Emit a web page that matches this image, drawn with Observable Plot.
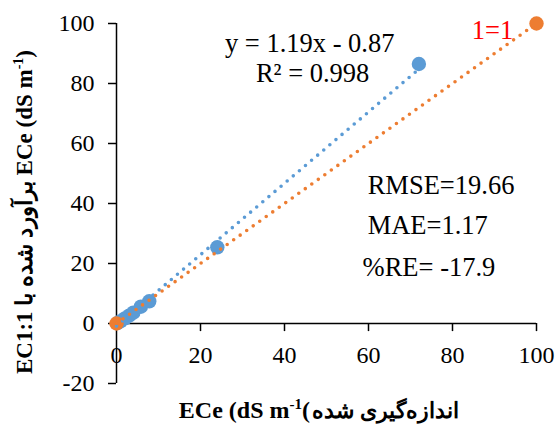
<!DOCTYPE html>
<html>
<head>
<meta charset="utf-8">
<script src="https://cdn.jsdelivr.net/npm/d3@7"></script>
<script src="https://cdn.jsdelivr.net/npm/@observablehq/plot@0.6"></script>
<style>
  html, body { margin: 0; padding: 0; background: white; }
  svg text { font-family: "Liberation Serif", "Times New Roman", serif; }
</style>
</head>
<body>
<div id="chart"></div>
<script>
// Estimated (predicted) vs measured ECe
const measuredX = [0.3, 1, 2, 3, 4, 5.8, 7.8, 24, 72];
const estimatedY = [0.2, 0.8, 1.7, 2.6, 3.6, 5.6, 7.4, 25.4, 86.5];
// 1:1 series
const oneX = [0, 100];
const oneY = [0, 100];
// trendline endpoints (y = 1.19x - 0.87)
const trendX = [0, 72];
const trendY = [-0.87, 84.8];
// axis ticks
const xTicks = [0, 20, 40, 60, 80, 100];
const yTicks = [-20, 0, 20, 40, 60, 80, 100];
// annotations
const eqText = ["y = 1.19x - 0.87", "R² = 0.998"];
const statText = ["RMSE=19.66", "MAE=1.17", "%RE= -17.9"];

const blue = "#5B9BD5";
const orange = "#ED7D31";
const serif = "Liberation Serif";

const pts = measuredX.map((x, i) => ({x, y: estimatedY[i]}));
const one = oneX.map((x, i) => ({x, y: oneY[i]}));
const trend = trendX.map((x, i) => ({x, y: trendY[i]}));

const chart = Plot.plot({
  width: 558,
  height: 426,
  marginLeft: 116,
  marginRight: 22,
  marginTop: 23,
  marginBottom: 43,
  x: {domain: [0, 100], axis: null},
  y: {domain: [-20, 100], axis: null},
  style: {fontFamily: serif, fontSize: "24px", background: "white", color: "black"},
  marks: [
    // y axis
    Plot.ruleX([0], {y1: -20, y2: 100, stroke: "black", strokeWidth: 1.5}),
    Plot.axisY(yTicks, {label: null, tickSize: 8, tickPadding: 14, fontSize: 24, fontFamily: serif, tickFormat: d => String(d), strokeWidth: 1.5}),
    // x axis at y = 0
    Plot.ruleY([0], {x1: 0, x2: 100, stroke: "black", strokeWidth: 1.5}),
    Plot.ruleX(xTicks.filter(d => d > 0), {x: d => d, y1: 0, y2: -2.7, stroke: "black", strokeWidth: 1.5}),
    Plot.text(xTicks, {x: d => d, y: 0, dy: 32, text: d => String(d), fontSize: 24, fontFamily: serif, fill: "black"}),
    // markers
    Plot.dot(pts, {x: "x", y: "y", r: 7.2, fill: blue, stroke: "none"}),
    Plot.dot(one, {x: "x", y: "y", r: 7.2, fill: orange, stroke: "none"}),
    // dotted lines
    Plot.line(trend, {x: "x", y: "y", stroke: blue, strokeWidth: 3.6, strokeDasharray: "0 8", strokeLinecap: "round"}),
    Plot.line(one, {x: "x", y: "y", stroke: orange, strokeWidth: 3.6, strokeDasharray: "0 8", strokeLinecap: "round"}),
    // annotations
    Plot.text([eqText[0]], {x: 46, y: 93.3, text: d => d, fontSize: 26.5, fontFamily: serif, fill: "black"}),
    Plot.text([eqText[1]], {x: 46.7, y: 83.3, text: d => d, fontSize: 26.5, fontFamily: serif, fill: "black"}),
    Plot.text(["1=1"], {x: 89.5, y: 97.7, text: d => d, fontSize: 26.5, fontFamily: serif, fill: "#FF0000"}),
    Plot.text([statText[0]], {x: 59.8, y: 46, text: d => d, fontSize: 26.5, fontFamily: serif, fill: "black", textAnchor: "start"}),
    Plot.text([statText[1]], {x: 59.8, y: 32.7, text: d => d, fontSize: 26.5, fontFamily: serif, fill: "black", textAnchor: "start"}),
    Plot.text([statText[2]], {x: 58.6, y: 18.7, text: d => d, fontSize: 26.5, fontFamily: serif, fill: "black", textAnchor: "start"})
  ]
});

document.getElementById("chart").appendChild(chart);
const svg = d3.select(chart);

// x axis title: Latin part (left) and Persian part (right)
const xt = svg.append("text")
  .attr("x", 310).attr("y", 418)
  .attr("text-anchor", "end")
  .attr("font-weight", "bold")
  .attr("font-size", 24)
  .attr("fill", "black");
xt.append("tspan").text("ECe (dS m");
xt.append("tspan").attr("dy", -9).attr("font-size", 15).text("-1");
xt.append("tspan").attr("dy", 9).text("(");

svg.append("text")
  .attr("x", 312).attr("y", 418)
  .attr("text-anchor", "start")
  .attr("font-weight", "bold")
  .attr("font-size", 22)
  .attr("fill", "black")
  .text("اندازه\u200Cگیری شده");

// y axis title
const yt = svg.append("text")
  .attr("transform", "translate(32,212) rotate(-90)")
  .attr("text-anchor", "middle")
  .attr("font-weight", "bold")
  .attr("font-size", 23)
  .attr("direction", "ltr")
  .attr("fill", "black");
yt.append("tspan").text("EC1:1 برآورد شده با ECe (dS m");
yt.append("tspan").attr("dy", -9).attr("font-size", 14).text("-1");
yt.append("tspan").attr("dy", 9).text(")");
</script>
</body>
</html>
